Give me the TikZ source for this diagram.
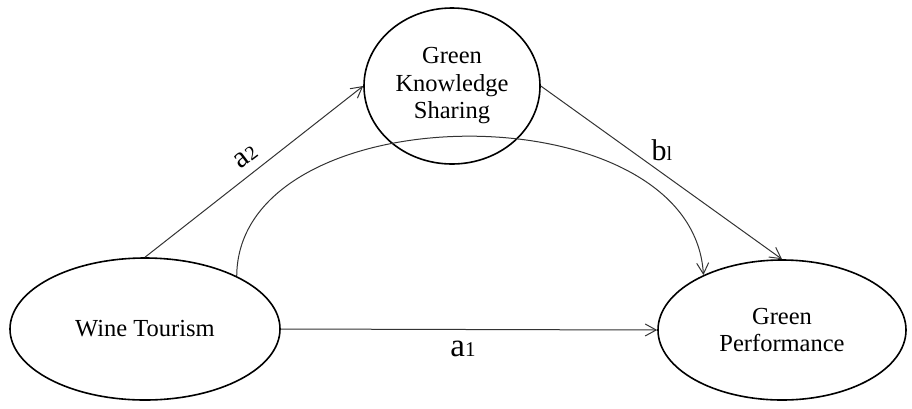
\documentclass[tikz,border=0pt]{standalone}
\usepackage{fontspec}
\setmainfont{Liberation Serif}
\usetikzlibrary{shapes.geometric,arrows.meta}

\tikzset{
  construct/.style={draw,ellipse,line width=1.6pt,inner sep=0pt,align=center,
    font=\fontsize{24.5}{27.5}\selectfont},
  path/.style={line width=1pt,draw=black!80,-{Straight Barb[length=11pt,width=12pt,line width=1pt]}},
  coef/.style={font=\fontsize{30}{32}\selectfont,inner sep=0pt}
}

\begin{document}
\begin{tikzpicture}[x=1pt,y=-1pt]
\useasboundingbox (0,0) rectangle (912,408);

\node[construct,minimum width=270pt,minimum height=142pt] (wine) at (145,329) {Wine Tourism};
\node[construct,minimum width=176pt,minimum height=156pt] (gks) at (452,86) {Green\\Knowledge\\Sharing};
\node[construct,minimum width=248pt,minimum height=140pt] (perf) at (782,330) {Green\\Performance};

\draw[path] (wine.north) -- (gks.west);
\draw[path] (gks.east) -- (perf.north);
\draw[path] (wine.east) -- (perf.west);
\draw[path] (wine.30) .. controls (238,92) and (692,88) .. (perf.145);

\node[coef,rotate=37] (la2) at (246,157) {a{\fontsize{20}{20}\selectfont 2}};
\node[coef] (lb1) at (662,150) {b{\fontsize{20}{20}\selectfont l}};
\node[coef,font=\fontsize{33}{35}\selectfont] (la1) at (463,349) {a{\fontsize{21}{21}\selectfont 1}};
\end{tikzpicture}
\end{document}
